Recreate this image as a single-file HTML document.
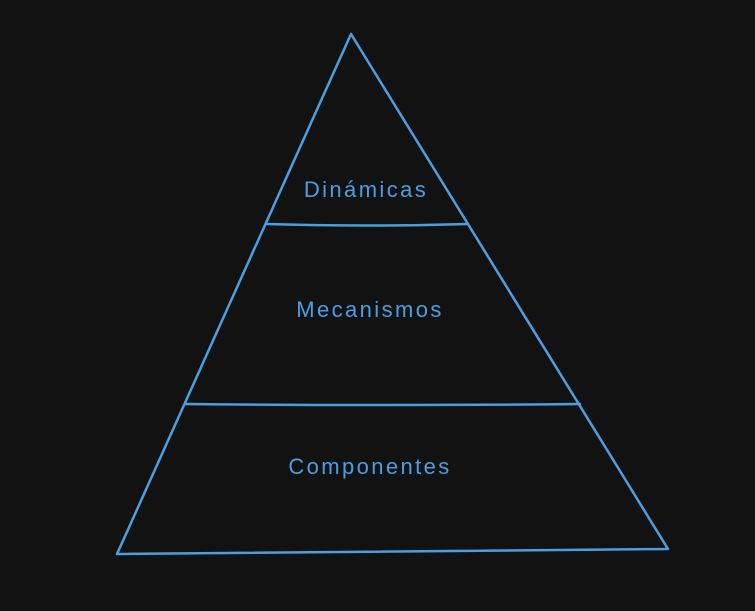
<!DOCTYPE html>
<html><head><style>
html,body{margin:0;padding:0;background:#121212;width:755px;height:611px;overflow:hidden}
</style></head><body>
<svg width="755" height="611" viewBox="0 0 755 611" xmlns="http://www.w3.org/2000/svg">
<rect width="755" height="611" fill="#121212"/>
<g fill="none" stroke="#4a9fe3" stroke-width="2.5" stroke-linecap="round" stroke-linejoin="round">
<path d="M351 34 L117 554 L668 549 Z"/>
<path d="M267 224 Q365 227 468 224"/>
<path d="M186 404 Q380 406 580 404"/>
</g>
<g fill="#4a9fe3" font-family="'Comic Sans MS','Liberation Sans',sans-serif" font-size="22" letter-spacing="2.4" text-anchor="middle">
<text x="366" y="197">Dinámicas</text>
<text x="370" y="317">Mecanismos</text>
<text x="370" y="474">Componentes</text>
</g>
</svg>
</body></html>
